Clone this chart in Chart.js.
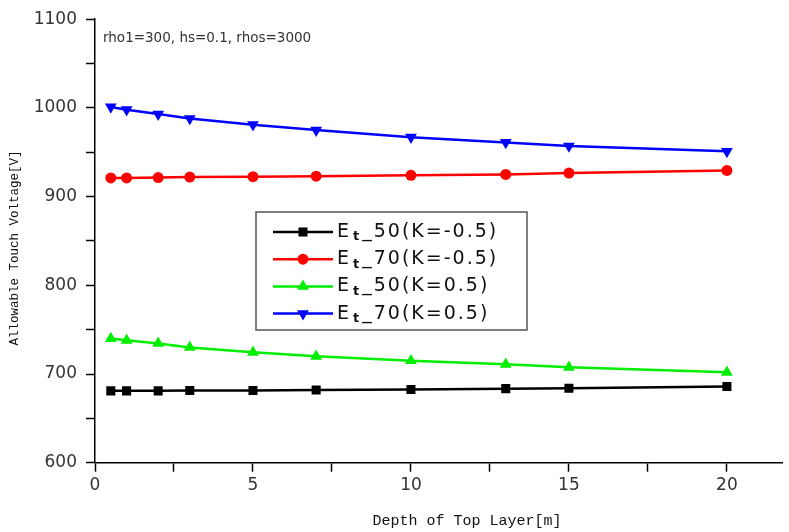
<!DOCTYPE html>
<html>
<head>
<meta charset="utf-8">
<script src="https://cdn.jsdelivr.net/npm/chart.js@4/dist/chart.umd.min.js"></script>
<style>
  html, body { margin: 0; padding: 0; background: #fff; }
  #wrap { width: 789px; height: 532px; }
</style>
</head>
<body>
<div id="wrap"><canvas id="chart" width="789" height="532"></canvas></div>
<script>
/* Allowable touch voltage vs depth of top layer */

const depth   = [0.5, 1, 2, 3, 5, 7, 10, 13, 15, 20];
const et50Neg = [681, 681, 681, 681.5, 681.5, 682, 682.5, 683.5, 684, 686];
const et70Neg = [921, 921, 921.5, 922, 922.5, 923, 924, 925, 926.5, 929.5];
const et50Pos = [740, 738, 734.5, 730, 724.5, 720, 715, 711, 707.5, 702];
const et70Pos = [1001, 998, 993, 988, 981, 975, 967, 961, 957, 951];

const seriesNames = ['Et_50(K=-0.5)', 'Et_70(K=-0.5)', 'Et_50(K=0.5)', 'Et_70(K=0.5)'];
const noteText = 'rho1=300, hs=0.1, rhos=3000';
const xTitle = 'Depth of Top Layer[m]';
const yTitle = 'Allowable Touch Voltage[V]';

const TICK_FONT = { family: 'DejaVu Sans', size: 17 };

function mkSet(i, values, color, style, radius, rotation) {
  return {
    label: seriesNames[i],
    data: depth.map((x, k) => ({ x, y: values[k] })),
    borderColor: color, backgroundColor: color,
    borderWidth: 2.5, pointStyle: style, pointRadius: radius, pointRotation: rotation || 0,
    pointBorderWidth: 0, tension: 0,
  };
}

// legend, note and axis titles drawn on top
const extras = {
  id: 'extras',
  afterDraw(chart) {
    const ctx = chart.ctx;
    ctx.save();

    ctx.fillStyle = '#333';
    ctx.font = '13.5px "DejaVu Sans"';
    ctx.textBaseline = 'middle';
    ctx.textAlign = 'left';
    ctx.fillText(noteText, 103, 38);

    ctx.fillStyle = '#111';
    ctx.font = '15px "Liberation Mono"';
    ctx.textAlign = 'center';
    ctx.fillText(xTitle, 467, 521);

    ctx.save();
    ctx.translate(15, 248);
    ctx.rotate(-Math.PI / 2);
    ctx.font = '12.5px "Liberation Mono"';
    ctx.fillText(yTitle, 0, 0);
    ctx.restore();

    // legend box
    ctx.fillStyle = '#fff';
    ctx.fillRect(256, 212, 271, 118);
    ctx.strokeStyle = '#555';
    ctx.lineWidth = 1.5;
    ctx.strokeRect(256, 212, 271, 118);

    chart.data.datasets.forEach((ds, i) => {
      const cy = 232 + i * 27.2;
      ctx.strokeStyle = ds.borderColor;
      ctx.lineWidth = 2.5;
      ctx.beginPath();
      ctx.moveTo(273, cy); ctx.lineTo(333, cy);
      ctx.stroke();
      ctx.fillStyle = ds.backgroundColor;
      Chart.helpers.drawPoint(ctx, {
        pointStyle: ds.pointStyle, radius: ds.pointRadius, rotation: ds.pointRotation, borderWidth: 0,
      }, 303, cy);

      const name = ds.label;
      ctx.fillStyle = '#111';
      ctx.textAlign = 'left';
      ctx.textBaseline = 'middle';
      let x = 337;
      ctx.font = '19px "DejaVu Sans"';
      ctx.fillText(name[0], x, cy);
      x += ctx.measureText(name[0]).width + 4;
      ctx.font = 'bold 13px "DejaVu Sans"';
      ctx.fillText(name[1], x, cy + 5);
      x += ctx.measureText(name[1]).width + 3;
      ctx.font = '19px "DejaVu Sans"';
      ctx.letterSpacing = '2px';
      ctx.fillText(name.slice(2), x, cy);
      ctx.letterSpacing = '0px';
    });

    ctx.restore();
  },
};

new Chart(document.getElementById('chart'), {
  type: 'line',
  data: {
    datasets: [
      mkSet(0, et50Neg, '#000000', 'rect', 6.4),
      mkSet(1, et70Neg, '#ff0000', 'circle', 5.5),
      mkSet(2, et50Pos, '#00ee00', 'triangle', 6.8),
      mkSet(3, et70Pos, '#0000ff', 'triangle', 6.8, 180),
    ],
  },
  options: {
    responsive: false, animation: false, devicePixelRatio: 1,
    layout: { padding: { top: 18, left: 0, right: 0, bottom: 0 } },
    plugins: { legend: { display: false }, tooltip: { enabled: false } },
    scales: {
      x: {
        type: 'linear', min: 0, max: 21.75,
        afterFit: s => { s.height = 69.3; },
        border: { color: '#000', width: 1.5 },
        grid: { drawOnChartArea: false, tickLength: 9, tickColor: '#000', tickWidth: 1.5 },
        ticks: {
          stepSize: 2.5, includeBounds: false, autoSkip: false, maxRotation: 0,
          padding: 4, color: '#333', font: TICK_FONT,
          callback: v => (v % 5 === 0 ? v : ''),
        },
      },
      y: {
        min: 600, max: 1100,
        afterFit: s => { s.width = 95; },
        border: { color: '#000', width: 1.5 },
        grid: { drawOnChartArea: false, tickLength: 9, tickColor: '#000', tickWidth: 1.5 },
        ticks: {
          stepSize: 50, autoSkip: false, padding: 9, color: '#333', font: TICK_FONT,
          callback: v => (v % 100 === 0 ? v : ''),
        },
      },
    },
  },
  plugins: [extras],
});
</script>
</body>
</html>
